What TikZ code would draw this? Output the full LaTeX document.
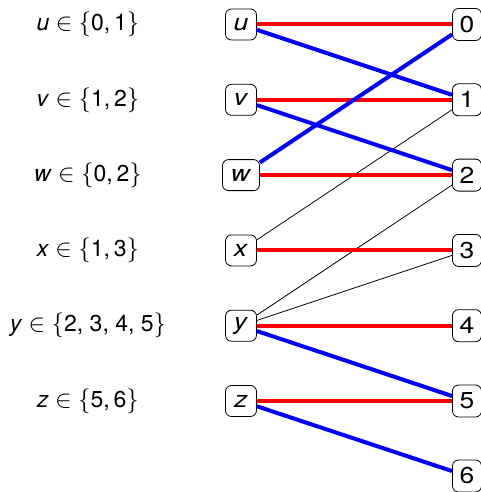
\documentclass[tikz,border=0pt]{standalone}
\usepackage{fontspec}
\setmainfont{TeX Gyre Heros}
\usepackage{graphicx}
\newcommand{\sx}[1]{\scalebox{1.15}[1]{#1}}
\newcommand{\lab}[2]{\scalebox{1.0}[1]{\textit{#1} $\in$ $\{$#2$\}$}}
\begin{document}
\begin{tikzpicture}[x=1pt,y=-1pt,
  every node/.style={font=\fontsize{23}{27}\selectfont},
  varbox/.style={draw, line width=0.8pt, rounded corners=6pt, minimum width=31pt, minimum height=31pt, inner sep=3pt},
  valbox/.style={draw, line width=0.8pt, rounded corners=6pt, minimum width=29pt, minimum height=32pt, inner sep=3pt},
  lbl/.style={inner sep=0pt},
  red edge/.style={draw=red, line width=4pt},
  blue edge/.style={draw=blue, line width=4pt},
  thin edge/.style={draw=black, line width=0.8pt}]
\useasboundingbox (0,0) rectangle (480,492);
\def\ra{24.5}\def\rb{99.8}\def\rc{175.1}\def\rd{250.4}\def\re{325.7}\def\rf{401}\def\rg{476}
% labels
\node[lbl] (lu) at (88,\ra) {\lab{u}{0,\,1}};
\node[lbl] (lv) at (88,\rb) {\lab{v}{1,\,2}};
\node[lbl] (lw) at (88,\rc) {\lab{w}{0,\,2}};
\node[lbl] (lx) at (88,\rd) {\lab{x}{1,\,3}};
\node[lbl] (ly) at (88,\re) {\lab{y}{2, 3, 4, 5}};
\node[lbl] (lz) at (88,\rf) {\lab{z}{5,\,6}};
% variable nodes
\node[varbox] (u) at (241,\ra) {\sx{\textit{u}}};
\node[varbox] (v) at (241,\rb) {\sx{\textit{v}}};
\node[varbox, minimum width=37pt] (w) at (241,\rc) {\sx{\textit{w}}};
\node[varbox] (x) at (241,\rd) {\sx{\textit{x}}};
\node[varbox] (y) at (241,\re) {\sx{\textit{y}}};
\node[varbox] (z) at (241,\rf) {\sx{\textit{z}}};
% value nodes
\node[valbox] (n0) at (467,\ra) {\sx{0}};
\node[valbox] (n1) at (467,\rb) {\sx{1}};
\node[valbox] (n2) at (467,\rc) {\sx{2}};
\node[valbox] (n3) at (467,\rd) {\sx{3}};
\node[valbox] (n4) at (467,\re) {\sx{4}};
\node[valbox] (n5) at (467,\rf) {\sx{5}};
\node[valbox] (n6) at (467,\rg) {\sx{6}};
% edges
\draw[thin edge] (x) -- (n1);
\draw[thin edge] (y) -- (n2);
\draw[thin edge] (y) -- (n3);
\draw[red edge] (u) -- (n0);
\draw[red edge] (v) -- (n1);
\draw[red edge] (w) -- (n2);
\draw[red edge] (x) -- (n3);
\draw[red edge] (y) -- (n4);
\draw[red edge] (z) -- (n5);
\draw[blue edge] (u) -- (n1);
\draw[blue edge] (v) -- (n2);
\draw[blue edge] (w) -- (n0);
\draw[blue edge] (y) -- (n5);
\draw[blue edge] (z) -- (n6);
\end{tikzpicture}
\end{document}
